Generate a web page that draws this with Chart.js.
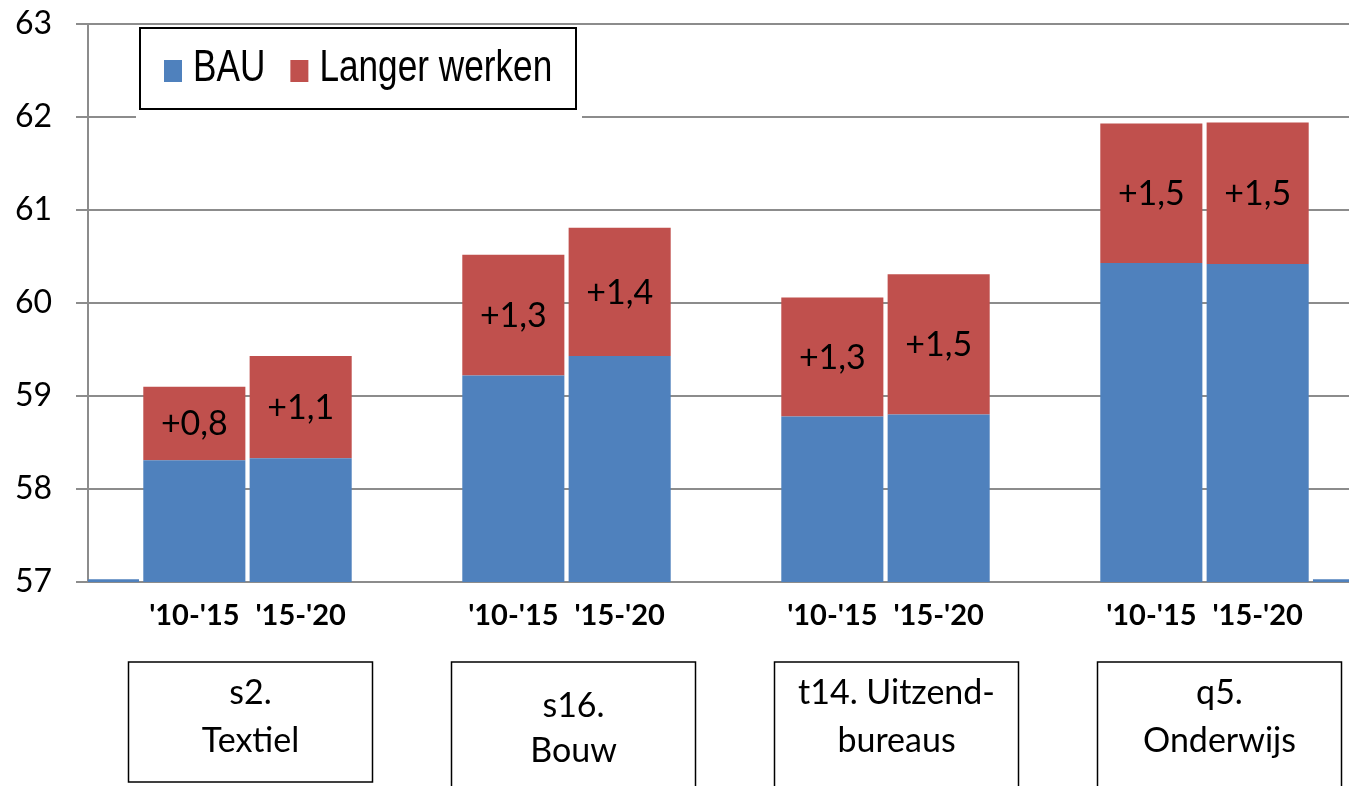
<!DOCTYPE html>
<html>
<head>
<meta charset="utf-8">
<script src="https://cdn.jsdelivr.net/npm/chart.js@4.4.0/dist/chart.umd.min.js"></script>
<style>
  html, body { margin: 0; padding: 0; background: #fff; }
  #wrap { width: 1349px; height: 786px; overflow: hidden; position: relative; }
  canvas { display: block; }
</style>
</head>
<body>
<div id="wrap"><canvas id="chart" width="1364" height="786"></canvas></div>
<script>
// empty slots separate the groups; the outer ones carry the thin stub bars
var periods = ["", "'10-'15", "'15-'20", "", "'10-'15", "'15-'20", "", "'10-'15", "'15-'20", "", "'10-'15", "'15-'20", ""];
var bau = [57.03, 58.31, 58.33, null, 59.22, 59.43, null, 58.78, 58.80, null, 60.43, 60.42, 57.03];
var langer = [null, 0.79, 1.10, null, 1.30, 1.38, null, 1.28, 1.51, null, 1.50, 1.52, null];
var sectors = [["s2.", "Textiel"], ["s16.", "Bouw"], ["t14. Uitzend-", "bureaus"], ["q5.", "Onderwijs"]];
var sectorFirstSlot = [1, 4, 7, 10];
var yTicks = [57, 58, 59, 60, 61, 62, 63];

var blue = '#4F81BD';
var red = '#C0504D';
var gridGray = '#8c8c8c';
var calibri = 'Lato, "Open Sans", sans-serif';

var barLabels = {
	id: 'barLabels',
	afterDatasetsDraw: function(chart) {
		var ctx = chart.ctx;
		var meta = chart.getDatasetMeta(1);
		ctx.save();
		ctx.font = '34px ' + calibri;
		ctx.fillStyle = '#000';
		ctx.textAlign = 'center';
		ctx.textBaseline = 'middle';
		meta.data.forEach(function(el, i) {
			if (langer[i] == null) return;
			var txt = '+' + langer[i].toFixed(1).replace('.', ',');
			ctx.fillText(txt, el.x, (el.y + el.base) / 2 + 1);
		});
		ctx.restore();
	}
};

var legendBox = {
	id: 'legendBox',
	afterDraw: function(chart) {
		var ctx = chart.ctx;
		ctx.save();
		ctx.fillStyle = '#fff';
		ctx.fillRect(136, 27, 446, 94);
		ctx.strokeStyle = '#000';
		ctx.lineWidth = 2;
		ctx.strokeRect(140, 28, 436, 81);
		ctx.font = '44px "Liberation Sans", Arial, sans-serif';
		ctx.textBaseline = 'middle';
		ctx.textAlign = 'left';
		var squeeze = 0.8;
		var x = 164;
		chart.data.datasets.forEach(function(ds) {
			ctx.fillStyle = ds.backgroundColor;
			ctx.fillRect(x, 60, 18, 22);
			ctx.fillStyle = '#000';
			ctx.save();
			ctx.translate(x + 29, 69);
			ctx.scale(squeeze, 1);
			ctx.fillText(ds.label, 0, 0);
			ctx.restore();
			x += 29 + ctx.measureText(ds.label).width * squeeze + 25;
		});
		ctx.restore();
	}
};

var sectorBoxes = {
	id: 'sectorBoxes',
	afterDraw: function(chart) {
		var ctx = chart.ctx;
		var xs = chart.scales.x;
		ctx.save();
		ctx.strokeStyle = '#000';
		ctx.lineWidth = 1.5;
		ctx.font = '34px ' + calibri;
		ctx.fillStyle = '#000';
		ctx.textAlign = 'center';
		ctx.textBaseline = 'middle';
		sectors.forEach(function(lines, i) {
			var s = sectorFirstSlot[i];
			// boxes sit slightly right of the bar pair, drifting a bit more to the right
			var cx = (xs.getPixelForValue(s) + xs.getPixelForValue(s + 1)) / 2 + 3 + 4 * i;
			var bottom = i === 0 ? 782 : 800;
			ctx.strokeRect(cx - 122, 662, 244, bottom - 662);
			var shifted = lines[0].indexOf('s16') === 0;
			var top = shifted ? 706 : 693;
			var gap = shifted ? 45 : 48;
			lines.forEach(function(t, j) {
				ctx.fillText(t, cx, top + j * gap);
			});
		});
		ctx.restore();
	}
};

var chart = new Chart(document.getElementById('chart'), {
	type: 'bar',
	data: {
		labels: periods,
		datasets: [{
			label: 'BAU',
			data: bau,
			backgroundColor: blue,
			categoryPercentage: 1,
			barPercentage: 0.96
		}, {
			label: 'Langer werken',
			data: langer,
			backgroundColor: red,
			categoryPercentage: 1,
			barPercentage: 0.96
		}]
	},
	options: {
		responsive: false,
		animation: false,
		devicePixelRatio: 1,
		layout: { padding: { top: 24, left: 0, right: 0, bottom: 0 } },
		plugins: {
			legend: { display: false },
			tooltip: { enabled: false }
		},
		scales: {
			x: {
				stacked: true,
				offset: false,
				grid: { display: false },
				border: { display: true, color: gridGray, width: 2 },
				ticks: {
					color: '#000',
					font: { family: calibri, size: 29, weight: 'bold' },
					padding: 8,
					maxRotation: 0,
					autoSkip: false
				},
				afterFit: function(scale) {
					scale.height = 204;
					scale.paddingLeft = 0;
					scale.paddingRight = 0;
				}
			},
			y: {
				stacked: true,
				min: 57,
				max: 63,
				afterBuildTicks: function(scale) {
					scale.ticks = yTicks.map(function(v) { return { value: v }; });
				},
				grid: { color: gridGray, lineWidth: 2, tickLength: 12, drawTicks: true },
				border: { display: true, color: gridGray, width: 2 },
				ticks: {
					color: '#000',
					font: { family: calibri, size: 32 },
					padding: 24
				},
				afterFit: function(scale) {
					scale.width = 88;
					scale.paddingTop = 0;
					scale.paddingBottom = 0;
				}
			}
		}
	},
	plugins: [barLabels, legendBox, sectorBoxes]
});
</script>
</body>
</html>
